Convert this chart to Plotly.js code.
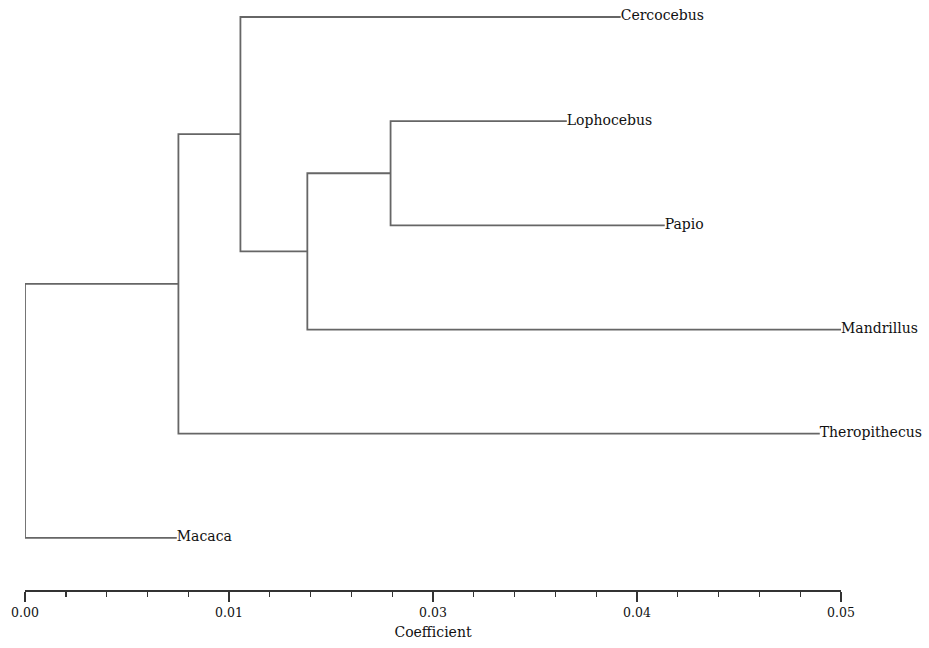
<!DOCTYPE html>
<html>
<head>
<meta charset="utf-8">
<script src="https://cdn.plot.ly/plotly-3.0.1.min.js"></script>
<style>html,body{margin:0;padding:0;background:#fff;}#chart{width:929px;height:648px;}</style>
</head>
<body>
<div id="chart"></div>
<script>
// Leaves (top to bottom) and their branch-end coefficient
const taxa = ["Cercocebus", "Lophocebus", "Papio", "Mandrillus", "Theropithecus", "Macaca"];
const leafCoefficient = [0.0365, 0.0332, 0.0392, 0.0500, 0.0487, 0.0093];

// Merges (clusters) in order of joining
const mergeName = ["D", "C", "B", "A", "Root"];
const mergeLeft = ["Lophocebus", "D", "Cercocebus", "B", "A"];
const mergeRight = ["Papio", "Mandrillus", "C", "Theropithecus", "Macaca"];
const mergeCoefficient = [0.0224, 0.0173, 0.0132, 0.0094, 0.0];

// Axis ticks
const tickValues = [0, 0.0125, 0.025, 0.0375, 0.05];
const tickLabels = ["0.00", "0.01", "0.03", "0.04", "0.05"];

// build node positions
const pos = {};
taxa.forEach((t, i) => { pos[t] = {x: leafCoefficient[i], y: i}; });
mergeName.forEach((n, i) => {
  const a = pos[mergeLeft[i]], b = pos[mergeRight[i]];
  pos[n] = {x: mergeCoefficient[i], y: (a.y + b.y) / 2};
});

const lx = [], ly = [];
mergeName.forEach((n, i) => {
  const p = pos[n], a = pos[mergeLeft[i]], b = pos[mergeRight[i]];
  lx.push(a.x, p.x, p.x, b.x, null);
  ly.push(a.y, a.y, b.y, b.y, null);
});

const serif = "DejaVu Serif, Liberation Serif, serif";
const traces = [
  {
    x: lx, y: ly, mode: "lines", type: "scatter",
    line: {color: "#666666", width: 1.8},
    hoverinfo: "skip", showlegend: false, cliponaxis: false
  },
  {
    x: leafCoefficient, y: taxa.map((t, i) => i), mode: "text", type: "scatter",
    text: taxa, textposition: "middle right",
    textfont: {family: serif, size: 14, color: "#111111"},
    showlegend: false, cliponaxis: false, hoverinfo: "skip"
  }
];

const layout = {
  width: 929, height: 648,
  margin: {l: 25, r: 88, t: 10, b: 58},
  paper_bgcolor: "#ffffff", plot_bgcolor: "#ffffff",
  showlegend: false,
  xaxis: {
    range: [0, 0.05], showgrid: false, zeroline: false,
    showline: true, linecolor: "#333333", linewidth: 1.6,
    tickmode: "array", tickvals: tickValues, ticktext: tickLabels,
    ticks: "outside", ticklen: 10, tickwidth: 1.6, tickcolor: "#333333",
    tickfont: {family: serif, size: 12.5, color: "#111111"},
    minor: {dtick: 0.0025, tick0: 0, ticks: "outside", ticklen: 5, tickwidth: 1.4, tickcolor: "#333333", showgrid: false},
    title: {text: "Coefficient", font: {family: serif, size: 14, color: "#111111"}, standoff: 8},
    fixedrange: true
  },
  yaxis: {
    range: [5.5, -0.067], showgrid: false, zeroline: false, showline: false,
    showticklabels: false, ticks: "", fixedrange: true
  }
};

Plotly.newPlot("chart", traces, layout, {displayModeBar: false, staticPlot: true});
</script>
</body>
</html>
